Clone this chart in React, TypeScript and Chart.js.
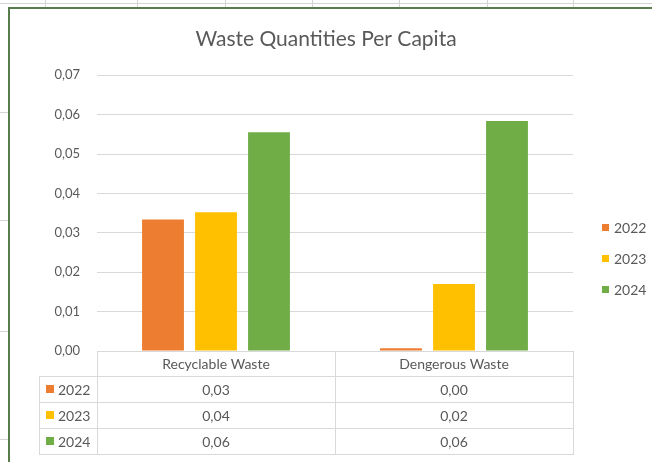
import React, { useEffect, useRef } from "react";
import { Chart, registerables } from "chart.js";

Chart.register(...registerables);

const chartTitle = "Waste Quantities Per Capita";
const categories = ["Recyclable Waste", "Dengerous Waste"];
const seriesLabels = ["2022", "2023", "2024"];
const values2022 = [0.0334, 0.0007];
const values2023 = [0.0352, 0.017];
const values2024 = [0.0555, 0.0584];
const seriesColors = ["#ED7D31", "#FFC000", "#70AD47"];
const yMin = 0;
const yMax = 0.07;
const yStep = 0.01;

const seriesValues = [values2022, values2023, values2024];
const FONT = "Lato, 'Open Sans', sans-serif";
const TEXT = "#595959";
const GRID = "#D9D9D9";

const fmt = (v: number) => v.toFixed(2).replace(".", ",");

const decorPlugin = {
  id: "decor",
  beforeDraw(chart: any) {
    const ctx = chart.ctx;
    ctx.save();
    ctx.fillStyle = "#ffffff";
    ctx.fillRect(0, 0, chart.width, chart.height);
    // spreadsheet grid behind the chart
    ctx.strokeStyle = "#D4D4D4";
    ctx.lineWidth = 1;
    ctx.beginPath();
    ctx.moveTo(0, 3.5);
    ctx.lineTo(chart.width, 3.5);
    [45, 137, 225, 312, 399, 487, 573].forEach((x) => {
      ctx.moveTo(x + 0.5, 0);
      ctx.lineTo(x + 0.5, 8);
    });
    [112, 220, 331, 439].forEach((y) => {
      ctx.moveTo(0, y + 0.5);
      ctx.lineTo(8, y + 0.5);
    });
    ctx.stroke();
    // chart frame
    ctx.strokeStyle = "#587D4A";
    ctx.lineWidth = 2;
    ctx.beginPath();
    ctx.moveTo(9, chart.height);
    ctx.lineTo(9, 8);
    ctx.lineTo(chart.width, 8);
    ctx.stroke();
    ctx.restore();
  },
  afterDraw(chart: any) {
    const ctx = chart.ctx;
    const xs = chart.scales.x;
    const ys = chart.scales.y;
    const area = chart.chartArea;
    const left = area.left;
    const right = area.right;
    const bounds = [left];
    for (let i = 0; i < categories.length - 1; i++) {
      bounds.push((xs.getPixelForValue(i) + xs.getPixelForValue(i + 1)) / 2);
    }
    bounds.push(right);
    const base = Math.round(ys.getPixelForValue(0));
    const headerH = 25;
    const rowH = 26;
    const labelLeft = 39;
    const bottom = base + headerH + rowH * seriesLabels.length;

    ctx.save();
    ctx.strokeStyle = GRID;
    ctx.lineWidth = 1;
    ctx.beginPath();
    ctx.moveTo(left, base + 0.5);
    ctx.lineTo(right, base + 0.5);
    for (let r = 0; r <= seriesLabels.length; r++) {
      const y = base + headerH + r * rowH + 0.5;
      ctx.moveTo(labelLeft, y);
      ctx.lineTo(right, y);
    }
    ctx.moveTo(labelLeft + 0.5, base + headerH);
    ctx.lineTo(labelLeft + 0.5, bottom + 1);
    bounds.forEach((b) => {
      const x = Math.round(b) + 0.5;
      ctx.moveTo(x, base);
      ctx.lineTo(x, bottom + 1);
    });
    ctx.stroke();

    ctx.fillStyle = TEXT;
    ctx.font = `14px ${FONT}`;
    ctx.textAlign = "center";
    ctx.textBaseline = "middle";
    categories.forEach((c, i) => {
      const cx = (bounds[i] + bounds[i + 1]) / 2;
      ctx.fillText(c, cx, base + headerH / 2 + 1);
      seriesValues.forEach((vals, s) => {
        ctx.fillText(fmt(vals[i]), cx, base + headerH + s * rowH + rowH / 2 + 1);
      });
    });
    seriesLabels.forEach((lab, s) => {
      const cy = base + headerH + s * rowH + rowH / 2;
      ctx.fillStyle = seriesColors[s];
      ctx.fillRect(46, cy - 4, 8, 8);
      ctx.fillStyle = TEXT;
      ctx.textAlign = "left";
      ctx.fillText(lab, 58, cy + 1);
    });

    // legend
    const legendY = [228, 259, 290];
    seriesLabels.forEach((lab, s) => {
      const cy = legendY[s];
      ctx.fillStyle = seriesColors[s];
      ctx.fillRect(602, cy - 4, 7, 7);
      ctx.fillStyle = TEXT;
      ctx.textAlign = "left";
      ctx.fillText(lab, 614, cy);
    });
    ctx.restore();
  },
};

export default function App() {
  const ref = useRef<HTMLCanvasElement | null>(null);
  useEffect(() => {
    document.body.style.margin = "0";
    const canvas = ref.current;
    if (!canvas) return;
    const chart = new Chart(canvas, {
      type: "bar",
      data: {
        labels: categories,
        datasets: seriesLabels.map((label, i) => ({
          label,
          data: seriesValues[i],
          backgroundColor: seriesColors[i],
          borderWidth: 0,
          categoryPercentage: 0.668,
          barPercentage: 0.79,
        })),
      },
      options: {
        responsive: false,
        animation: false,
        layout: { padding: { left: 0, right: 0, top: 0, bottom: 111 } },
        plugins: {
          legend: { display: false },
          tooltip: { enabled: false },
          title: {
            display: true,
            text: chartTitle,
            color: TEXT,
            font: { family: FONT, size: 21, weight: "normal" },
            padding: { top: 27, bottom: 23 },
          },
        },
        scales: {
          x: { type: "category", display: false, offset: true },
          y: {
            position: "left",
            min: yMin,
            max: yMax,
            ticks: {
              stepSize: yStep,
              callback: (v: any) => fmt(Number(v)),
              color: TEXT,
              font: { family: FONT, size: 13 },
              padding: 17,
            },
            grid: { color: GRID, drawTicks: false },
            border: { display: false },
            afterFit: (s: any) => {
              s.width = 97;
            },
          },
          y2: {
            position: "right",
            display: true,
            grid: { display: false },
            ticks: { display: false },
            border: { display: false },
            afterFit: (s: any) => {
              s.width = 79;
            },
          },
        },
      },
      plugins: [decorPlugin],
    } as any);
    return () => chart.destroy();
  }, []);
  return (
    <div style={{ width: 652, height: 462 }}>
      <canvas ref={ref} width={652} height={462} />
    </div>
  );
}
